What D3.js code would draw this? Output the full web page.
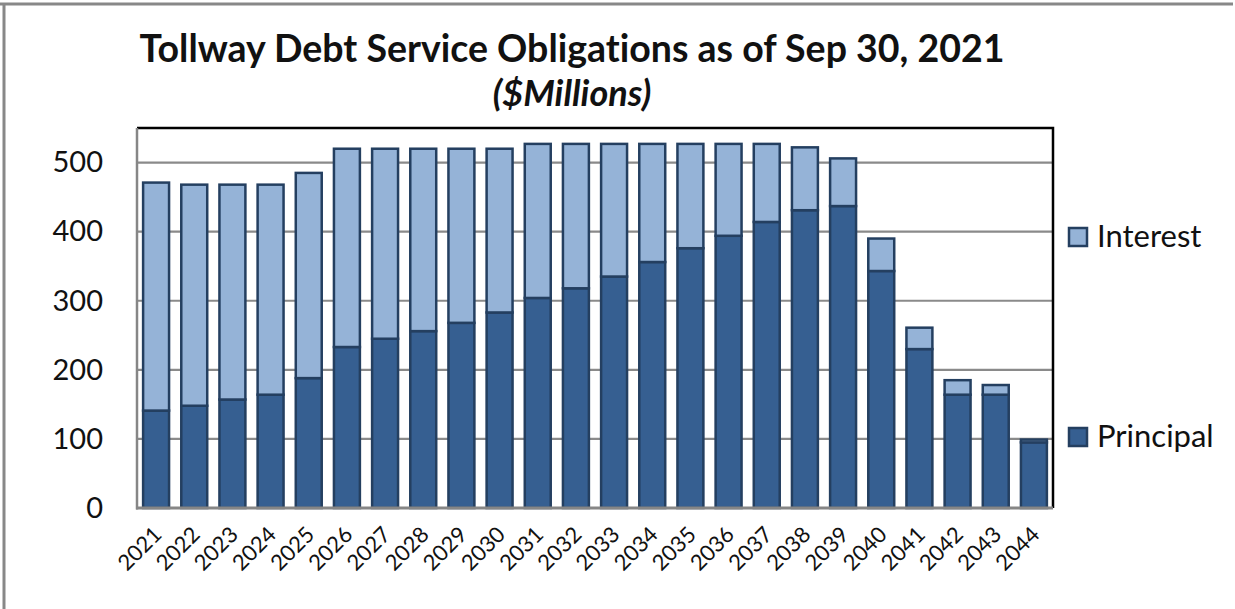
<!DOCTYPE html>
<html>
<head>
<meta charset="utf-8">
<script src="https://cdn.jsdelivr.net/npm/d3@7"></script>
<style>
    body { margin: 0; background: #fff; }
    text { font-family: Lato, "Open Sans", sans-serif; fill: #111; font-variant-ligatures: none; }
</style>
</head>
<body>
<div id="chart"></div>
<script>
const years = ["2021", "2022", "2023", "2024", "2025", "2026", "2027", "2028", "2029", "2030", "2031", "2032",
    "2033", "2034", "2035", "2036", "2037", "2038", "2039", "2040", "2041", "2042", "2043", "2044"];
const principal = [141, 148, 157, 164, 188, 233, 245, 256, 268, 283, 304, 318, 335, 356, 376, 394, 414, 431, 437, 343, 230, 164, 164, 95];
const interest = [330, 320, 311, 304, 297, 287, 275, 264, 252, 237, 223, 209, 192, 171, 151, 133, 113, 91, 69, 47, 31, 21, 14, 4];
const yTicks = [0, 100, 200, 300, 400, 500];
const seriesNames = ["Interest", "Principal"];

const width = 1235, height = 609;
const plot = { left: 137, right: 1053, top: 128, bottom: 508 };
const colors = { Principal: "#365f91", Interest: "#95b3d7" };
const barStroke = "#243f60";

const svg = d3.select("#chart").append("svg")
    .attr("width", width)
    .attr("height", height);

// outer chart frame (only top and left edges show in the picture)
svg.append("line").attr("x1", 0).attr("x2", 1233).attr("y1", 4).attr("y2", 4)
    .attr("stroke", "#888").attr("stroke-width", 3);
svg.append("line").attr("x1", 4).attr("x2", 4).attr("y1", 4).attr("y2", height)
    .attr("stroke", "#888").attr("stroke-width", 3);

const x = d3.scaleBand()
    .domain(years)
    .range([plot.left, plot.right])
    .paddingInner(0.32)
    .paddingOuter(0.16);

const y = d3.scaleLinear()
    .domain([0, 550])
    .range([plot.bottom, plot.top]);

// gridlines
svg.append("g")
    .selectAll("line")
    .data(yTicks.filter(t => t > 0))
    .enter()
    .append("line")
    .attr("x1", plot.left).attr("x2", plot.right)
    .attr("y1", d => y(d)).attr("y2", d => y(d))
    .attr("stroke", "#8a8a8a").attr("stroke-width", 2.2);

// plot frame: black top/right, gray axes
svg.append("path")
    .attr("d", `M${plot.left},${plot.top}H${plot.right}V${plot.bottom}`)
    .attr("fill", "none").attr("stroke", "#000").attr("stroke-width", 2.5);

const data = years.map((yr, i) => ({ year: yr, Principal: principal[i], Interest: interest[i] }));
const stacked = d3.stack().keys(["Principal", "Interest"])(data);

svg.append("g")
    .selectAll("g")
    .data(stacked)
    .enter()
    .append("g")
    .attr("fill", d => colors[d.key])
    .selectAll("rect")
    .data(d => d)
    .enter()
    .append("rect")
    .attr("x", d => x(d.data.year))
    .attr("y", d => y(d[1]))
    .attr("width", x.bandwidth())
    .attr("height", d => y(d[0]) - y(d[1]))
    .attr("stroke", barStroke)
    .attr("stroke-width", 2.5);

// axes lines (drawn over bars bottoms)
svg.append("line")
    .attr("x1", plot.left).attr("x2", plot.left)
    .attr("y1", plot.top).attr("y2", plot.bottom + 1.5)
    .attr("stroke", "#868686").attr("stroke-width", 2.5);
svg.append("line")
    .attr("x1", plot.left - 1).attr("x2", plot.right)
    .attr("y1", plot.bottom).attr("y2", plot.bottom)
    .attr("stroke", "#868686").attr("stroke-width", 3);

// y axis labels
const yAxis = d3.axisLeft(y).tickValues(yTicks).tickSize(0).tickPadding(34);
svg.append("g")
    .attr("transform", `translate(${plot.left},0)`)
    .call(yAxis)
    .call(g => g.select(".domain").remove())
    .selectAll("text")
    .attr("font-size", 29)
    .attr("font-family", "Lato")
    .attr("fill", "#111");

// x axis labels, rotated
const xAxis = d3.axisBottom(x).tickSize(0).tickPadding(0);
svg.append("g")
    .attr("transform", `translate(0,${plot.bottom})`)
    .call(xAxis)
    .call(g => g.select(".domain").remove())
    .selectAll("text")
    .attr("font-size", 22)
    .attr("font-family", "Lato")
    .attr("fill", "#111")
    .attr("text-anchor", "end")
    .attr("dy", 0)
    .attr("transform", "translate(7,28) rotate(-45)");

// title
svg.append("text")
    .attr("x", 572).attr("y", 62)
    .attr("text-anchor", "middle")
    .attr("font-size", 37.5)
    .attr("font-weight", "bold")
    .text("Tollway Debt Service Obligations as of Sep 30, 2021");
svg.append("text")
    .attr("x", 572).attr("y", 106)
    .attr("text-anchor", "middle")
    .attr("font-size", 36)
    .attr("font-weight", "bold")
    .attr("font-style", "italic")
    .text("($Millions)");

// legend
const legendY = { Interest: 228, Principal: 428 };
const legend = svg.append("g")
    .selectAll("g")
    .data(seriesNames)
    .enter()
    .append("g")
    .attr("transform", d => `translate(1069,${legendY[d]})`);
legend.append("rect")
    .attr("width", 18).attr("height", 18)
    .attr("fill", d => colors[d])
    .attr("stroke", barStroke).attr("stroke-width", 2.5);
legend.append("text")
    .attr("x", 28).attr("y", 19)
    .attr("font-size", 31)
    .text(d => d);
</script>
</body>
</html>
